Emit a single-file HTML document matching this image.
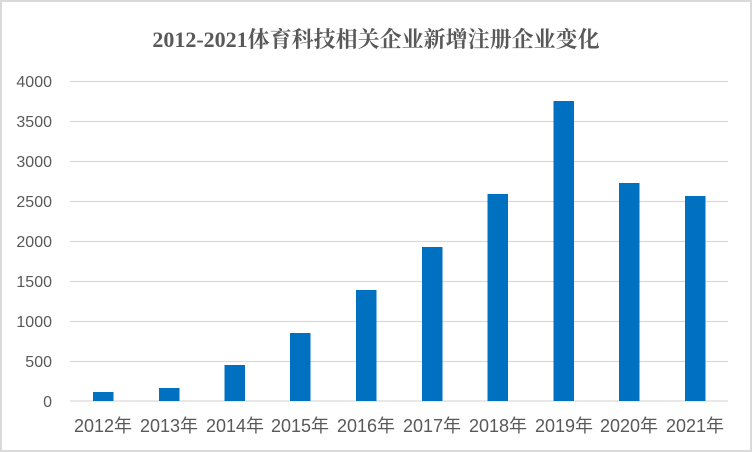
<!DOCTYPE html>
<html><head><meta charset="utf-8"><style>
html,body{margin:0;padding:0;background:#fff}
svg{display:block}
text{font-family:"Liberation Sans","Noto Sans CJK SC",sans-serif;fill:#595959}
</style></head><body>
<svg width="752" height="452" viewBox="0 0 752 452">
<rect x="1" y="1" width="750" height="450" fill="#fff" stroke="#d9d9d9" stroke-width="2"/>
<text x="376" y="47" text-anchor="middle" font-size="22" font-weight="bold" style="font-family:'Liberation Serif','Noto Serif CJK SC',serif;fill:#595959">2012-2021体育科技相关企业新增注册企业变化</text>
<g stroke="#d9d9d9" stroke-width="1.3">
<line x1="70" x2="728" y1="81.5" y2="81.5"/>
<line x1="70" x2="728" y1="121.5" y2="121.5"/>
<line x1="70" x2="728" y1="161.5" y2="161.5"/>
<line x1="70" x2="728" y1="201.5" y2="201.5"/>
<line x1="70" x2="728" y1="241.5" y2="241.5"/>
<line x1="70" x2="728" y1="281.5" y2="281.5"/>
<line x1="70" x2="728" y1="321.5" y2="321.5"/>
<line x1="70" x2="728" y1="361.5" y2="361.5"/>
<line x1="70" x2="728" y1="401" y2="401"/>
</g>
<g font-size="16" text-anchor="end">
<text x="52" y="87">4000</text>
<text x="52" y="127">3500</text>
<text x="52" y="167">3000</text>
<text x="52" y="207">2500</text>
<text x="52" y="247">2000</text>
<text x="52" y="287">1500</text>
<text x="52" y="327">1000</text>
<text x="52" y="367">500</text>
<text x="52" y="407">0</text>
</g>
<g fill="#0070c0">
<rect x="93" y="392" width="20.5" height="9"/>
<rect x="159" y="388" width="20.5" height="13"/>
<rect x="224.5" y="365" width="20.5" height="36"/>
<rect x="290" y="333" width="20.5" height="68"/>
<rect x="356" y="290" width="20.5" height="111"/>
<rect x="422" y="247" width="20.5" height="154"/>
<rect x="487.5" y="194" width="20.5" height="207"/>
<rect x="553.5" y="101" width="20.5" height="300"/>
<rect x="619" y="183" width="20.5" height="218"/>
<rect x="685" y="196" width="20.5" height="205"/>
</g>
<g font-size="18" text-anchor="middle">
<text x="103" y="432">2012年</text>
<text x="169" y="432">2013年</text>
<text x="235" y="432">2014年</text>
<text x="300" y="432">2015年</text>
<text x="366" y="432">2016年</text>
<text x="432" y="432">2017年</text>
<text x="498" y="432">2018年</text>
<text x="564" y="432">2019年</text>
<text x="629" y="432">2020年</text>
<text x="695" y="432">2021年</text>
</g>
</svg>
</body></html>
